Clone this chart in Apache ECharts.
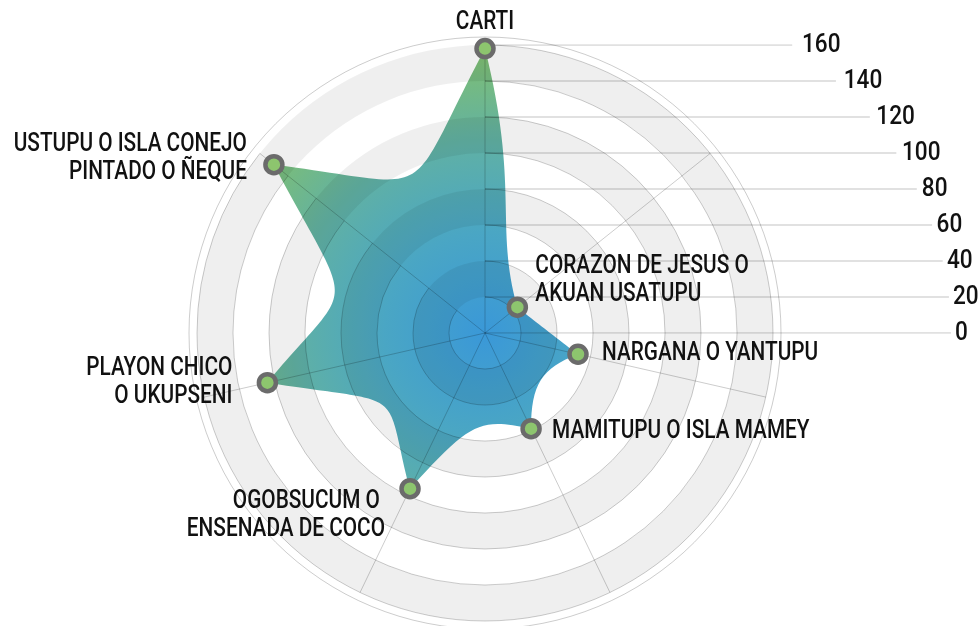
<!DOCTYPE html>
<html>
<head>
<meta charset="utf-8">
<script src="https://cdn.jsdelivr.net/npm/echarts@6/dist/echarts.min.js"></script>
<style>
html,body{margin:0;padding:0;background:#ffffff;}
#chart{width:980px;height:626px;}
</style>
</head>
<body>
<div id="chart"></div>
<script>
// ---- data ----
const categories = [
  'CARTI',
  'CORAZON DE JESUS O\nAKUAN USATUPU',
  'NARGANA O YANTUPU',
  'MAMITUPU O ISLA MAMEY',
  'OGOBSUCUM O \nENSENADA DE COCO',
  'PLAYON CHICO\nO UKUPSENI',
  'USTUPU O ISLA CONEJO\nPINTADO O ÑEQUE'
];
const values = [158, 23, 53, 59, 96, 124, 150];
const tickValues = [0, 20, 40, 60, 80, 100, 120, 140, 160];

// ---- layout / style ----
const CX = 485, CY = 333, R = 288, R_OUT = 296;
const MAXV = 160;
const LINE_ELL = [466, 383];   // curve on which the tick guide lines end
const LABEL_ELL = [470, 390];  // curve on which the tick labels start
const FONT = "Roboto, 'Noto Sans', sans-serif";
const FONT_SIZE = 26;
const FONT_WEIGHT = 500;
const NAME_SCALE = 0.8;
const TICK_SCALE = 0.87;
const GRID_LINE = 'rgba(0,0,0,0.2)';

// label anchor relative to the point: [dx, dy, align]
const labelLayout = [
  [0, -26, 'center'],
  [18, -27, 'left'],
  [24, -1, 'left'],
  [21, 3, 'left'],
  [-25, 27, 'right'],
  [-35, 0, 'right'],
  [-27, -6, 'right']
];

const chart = echarts.init(document.getElementById('chart'), null, {renderer: 'canvas'});

function ellX(v, ell) {
  const dy = v / MAXV * R;
  return ell[0] * Math.sqrt(Math.max(0, 1 - (dy / ell[1]) * (dy / ell[1])));
}

function pull(r) {
  return 0.4 * Math.max(0, Math.min(1, (r - 40) / 85));
}

function renderShape(params, api) {
  const cs = params.coordSys;
  const O = [cs.cx, cs.cy];
  const pts = values.map((v, i) => api.coord([v, i]));
  const n = pts.length;
  const MIN_DEV = 14 * Math.PI / 180;
  let d = 'M' + pts[0][0] + ',' + pts[0][1];
  for (let i = 0; i < n; i++) {
    const A = pts[i], B = pts[(i + 1) % n];
    const rA = Math.hypot(A[0] - O[0], A[1] - O[1]);
    const rB = Math.hypot(B[0] - O[0], B[1] - O[1]);
    const vA = [O[0] + B[0] - 2 * A[0], O[1] + B[1] - 2 * A[1]];
    const vB = [O[0] + A[0] - 2 * B[0], O[1] + A[1] - 2 * B[1]];
    let c1, c2;
    if (rB < 0.5 * rA) {
      // steep descent into a valley: keep the spike open on its far side
      const uIn = [(O[0] - A[0]) / rA, (O[1] - A[1]) / rA];
      const lenV = Math.hypot(vA[0], vA[1]);
      const dv = [vA[0] / lenV, vA[1] / lenV];
      const side = Math.sign(uIn[0] * (B[1] - A[1]) - uIn[1] * (B[0] - A[0])) || 1;
      let ang = Math.atan2(uIn[0] * dv[1] - uIn[1] * dv[0], uIn[0] * dv[0] + uIn[1] * dv[1]);
      if (Math.sign(ang) !== side || Math.abs(ang) < MIN_DEV) ang = side * MIN_DEV;
      const dir = [uIn[0] * Math.cos(ang) - uIn[1] * Math.sin(ang), uIn[0] * Math.sin(ang) + uIn[1] * Math.cos(ang)];
      const L = Math.min(0.4 * lenV, 0.55 * Math.hypot(B[0] - A[0], B[1] - A[1]));
      c1 = [A[0] + L * dir[0], A[1] + L * dir[1]];
      c2 = [B[0] + 0.35 * vB[0], B[1] + 0.35 * vB[1]];
    } else {
      const k = pull(Math.min(rA, rB));
      c1 = [A[0] + k * vA[0], A[1] + k * vA[1]];
      c2 = [B[0] + k * vB[0], B[1] + k * vB[1]];
    }
    d += ' C' + c1[0] + ',' + c1[1] + ' ' + c2[0] + ',' + c2[1] + ' ' + B[0] + ',' + B[1];
  }
  d += ' Z';
  return {
    type: 'path',
    shape: {pathData: d},
    style: {
      fill: {
        type: 'radial', x: O[0], y: O[1], r: R, global: true,
        colorStops: [
          {offset: 0, color: '#3a98d8'},
          {offset: 0.35, color: '#4aa6c4'},
          {offset: 0.65, color: '#5fb0a6'},
          {offset: 1, color: '#82c06d'}
        ]
      },
      stroke: null
    }
  };
}

const tickLineSeries = tickValues.map(v => ({
  type: 'line',
  xAxisIndex: 0, yAxisIndex: 0,
  z: 4, silent: true,
  showSymbol: false,
  data: [[0, v], [ellX(v, LINE_ELL), v]],
  lineStyle: {color: 'rgba(0,0,0,0.16)', width: 1.5}
}));

const option = {
  animation: false,
  backgroundColor: '#ffffff',
  polar: [
    {center: [CX, CY], radius: R},
    {center: [CX, CY], radius: R_OUT}
  ],
  angleAxis: [
    {
      polarIndex: 0, type: 'category', data: categories,
      startAngle: 90, clockwise: true, boundaryGap: false, z: 3,
      axisLine: {show: false}, axisTick: {show: false}, axisLabel: {show: false},
      splitLine: {show: true, lineStyle: {color: GRID_LINE, width: 1}}
    },
    {
      polarIndex: 1, type: 'value', min: 0, max: 360, z: 3,
      axisLine: {show: true, lineStyle: {color: GRID_LINE, width: 1}},
      axisTick: {show: false}, axisLabel: {show: false}, splitLine: {show: false}
    }
  ],
  radiusAxis: [
    {
      polarIndex: 0, type: 'value', min: 0, max: MAXV, interval: 20, z: 3,
      axisLine: {show: false}, axisTick: {show: false}, axisLabel: {show: false},
      splitLine: {show: true, lineStyle: {color: GRID_LINE, width: 1}},
      splitArea: {show: true, areaStyle: {color: ['rgba(0,0,0,0)', 'rgba(0,0,0,0.063)']}}
    },
    {polarIndex: 1, type: 'value', min: 0, max: 1, show: false}
  ],
  grid: {left: CX, top: CY - R, width: 480, height: R, containLabel: false},
  xAxis: {type: 'value', min: 0, max: 480, show: false},
  yAxis: {type: 'value', min: 0, max: MAXV, show: false},
  series: [
    {
      type: 'custom',
      coordinateSystem: 'polar', polarIndex: 0,
      z: 1, silent: true,
      data: [[0, 0]],
      renderItem: renderShape
    },
    ...tickLineSeries,
    {
      // tick labels
      type: 'custom',
      coordinateSystem: 'cartesian2d', xAxisIndex: 0, yAxisIndex: 0,
      z: 5, silent: true,
      data: tickValues.map(v => [ellX(v, LABEL_ELL), v]),
      renderItem: (params, api) => {
        const p = api.coord([api.value(0), api.value(1)]);
        return {
          type: 'text', x: p[0], y: p[1], scaleX: TICK_SCALE,
          style: {
            text: String(tickValues[params.dataIndex]),
            fill: '#111', fontFamily: FONT, fontSize: FONT_SIZE, fontWeight: FONT_WEIGHT,
            align: 'left', verticalAlign: 'middle'
          }
        };
      }
    },
    {
      type: 'scatter',
      coordinateSystem: 'polar', polarIndex: 0,
      z: 6, silent: true,
      symbol: 'circle', symbolSize: 17,
      itemStyle: {color: '#8dc56e', borderColor: '#6b6b6b', borderWidth: 4.5, opacity: 1},
      data: values.map((v, i) => [v, i])
    },
    {
      // category labels next to the points
      type: 'custom',
      coordinateSystem: 'polar', polarIndex: 0,
      z: 7, silent: true,
      data: values.map((v, i) => [v, i]),
      renderItem: (params, api) => {
        const i = params.dataIndex;
        const p = api.coord([api.value(0), api.value(1)]);
        const L = labelLayout[i];
        return {
          type: 'text', x: p[0] + L[0], y: p[1] + L[1], scaleX: NAME_SCALE,
          style: {
            text: categories[i],
            fill: '#111', fontFamily: FONT, fontSize: FONT_SIZE, fontWeight: FONT_WEIGHT,
            lineHeight: 28, align: L[2], verticalAlign: 'middle'
          }
        };
      }
    }
  ]
};
chart.setOption(option);
</script>
</body>
</html>
